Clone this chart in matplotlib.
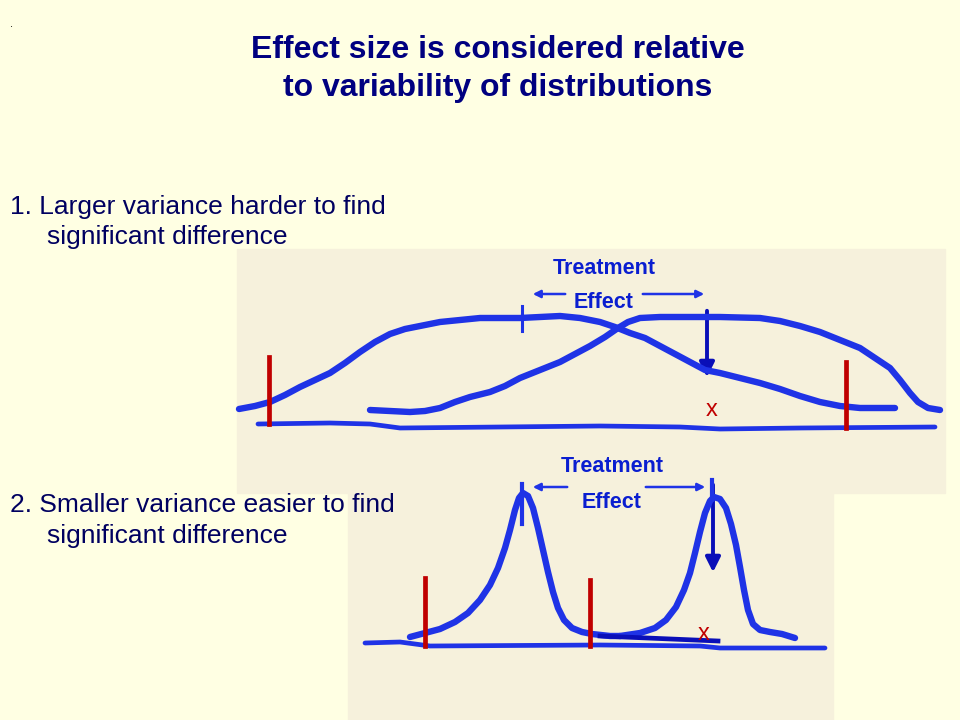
"""Slide: effect size relative to the variability of distributions (hand-drawn sketch)."""
import matplotlib
matplotlib.use("Agg")
import matplotlib.pyplot as plt
from matplotlib.patches import Rectangle, FancyArrowPatch

plt.rcParams['font.family'] = ['Liberation Sans', 'DejaVu Sans']

# ---- data (slide pixel coordinates) ----
# panel 1: wide distributions
p1_left_x = [239, 255, 270, 285, 300, 315, 330, 345, 360, 375, 390, 405, 420, 440, 460, 480, 500,
             520, 540, 560, 580, 600, 615, 630, 645, 660, 675, 690, 705, 720, 740, 760, 780, 800,
             820, 840, 860, 880, 895]
p1_left_y = [409, 406, 402, 395, 387, 380, 373, 363, 352, 342, 334, 329, 326, 322, 320, 318, 318,
             318, 317, 316, 318, 322, 327, 333, 338, 346, 354, 362, 370, 373, 378, 383, 389, 396,
             402, 406, 408, 408, 408]
p1_right_x = [370, 390, 410, 425, 440, 455, 470, 490, 505, 520, 540, 560, 575, 590, 605, 618, 628,
              640, 660, 690, 720, 760, 780, 800, 820, 840, 860, 875, 890, 900, 910, 918, 928, 940]
p1_right_y = [410, 411, 412, 411, 408, 402, 397, 392, 386, 378, 370, 362, 354, 346, 337, 328, 322,
              318, 317, 317, 317, 318, 321, 326, 332, 340, 348, 358, 368, 380, 393, 402, 408, 410]
p1_base_x = [258, 330, 370, 400, 600, 680, 720, 800, 935]
p1_base_y = [424, 423, 424, 428, 426, 427, 429, 428, 427]
p1_red_x = [269, 846]
p1_red_top = [357, 362]
p1_red_bot = [424, 428]

# panel 2: narrow distributions
p2_left_x = [410, 425, 440, 455, 468, 480, 490, 498, 505, 510, 515, 519, 523, 528, 533, 538, 543,
             548, 553, 558, 564, 572, 582, 592, 610, 620]
p2_left_y = [637, 633, 629, 622, 613, 600, 585, 568, 548, 530, 510, 498, 493, 496, 508, 528, 550,
             572, 592, 608, 620, 628, 632, 634, 636, 636]
p2_right_x = [620, 640, 655, 666, 676, 684, 690, 695, 700, 705, 710, 714, 720, 726, 731, 736, 740,
              744, 748, 753, 760, 770, 782, 795]
p2_right_y = [636, 633, 628, 620, 607, 590, 573, 553, 532, 513, 501, 497, 499, 508, 524, 545, 567,
              590, 610, 624, 630, 632, 634, 638]
p2_base_x = [365, 400, 430, 600, 700, 720, 825]
p2_base_y = [643, 642, 646, 645, 646, 648, 648]
p2_tail_x = [600, 718]
p2_tail_y = [636, 641]
p2_red_x = [425, 590]
p2_red_top = [578, 580]
p2_red_bot = [646, 646]

BLUE = '#1f33e6'
DARK = '#0a0fb8'
RED = '#c00000'
NAVY = '#000080'
TXT = '#000060'

fig = plt.figure(figsize=(9.6, 7.2), dpi=100, facecolor='#ffffe3')
ax = fig.add_axes([0, 0, 1, 1])
ax.set_xlim(0, 960)
ax.set_ylim(720, 0)
ax.axis('off')

# panel backgrounds
ax.add_patch(Rectangle((237, 249), 708, 244, color='#f6f1dc', zorder=0))
ax.add_patch(Rectangle((348, 493), 485, 227, color='#f6f1dc', zorder=0))

kw = dict(color=BLUE, lw=4.6, solid_capstyle='round', solid_joinstyle='round')
ax.plot(p1_left_x, p1_left_y, **kw)
ax.plot(p1_right_x, p1_right_y, **kw)
ax.plot(p1_base_x, p1_base_y, color=BLUE, lw=3.4, solid_capstyle='round')
ax.plot(p2_left_x, p2_left_y, **kw)
ax.plot(p2_right_x, p2_right_y, **kw)
ax.plot(p2_base_x, p2_base_y, color=BLUE, lw=3.4, solid_capstyle='round')
ax.plot(p2_tail_x, p2_tail_y, color=DARK, lw=3.4)

for x, t, b in zip(p1_red_x + p2_red_x, p1_red_top + p2_red_top, p1_red_bot + p2_red_bot):
    ax.plot([x, x], [t, b], color=RED, lw=3.4)

# mean ticks and arrows
ax.plot([522, 522], [306, 331], color=BLUE, lw=2.2)
ax.plot([522, 522], [484, 524], color=BLUE, lw=3.0)
ax.plot([712, 712], [480, 497], color=BLUE, lw=3.0)
for x, y0, y1 in [(707, 308, 380), (713, 482, 575)]:
    ax.add_patch(FancyArrowPatch((x, y0), (x, y1), arrowstyle='-|>', mutation_scale=22,
                                 color=DARK, lw=2.8))
for y, xl, xr in [(294, 530, 568), (487, 530, 570)]:
    ax.add_patch(FancyArrowPatch((xr, y), (xl, y), arrowstyle='-|>', mutation_scale=11,
                                 color=BLUE, lw=1.8))
for y, xl, xr in [(294, 640, 707), (487, 643, 708)]:
    ax.add_patch(FancyArrowPatch((xl, y), (xr, y), arrowstyle='-|>', mutation_scale=11,
                                 color=BLUE, lw=1.8))

lab = dict(color='#0a1ed0', fontsize=15.5, fontweight='bold', ha='center', va='center')
ax.text(604, 268, 'Treatment', **lab)
ax.text(604, 302, 'Effect', **lab)
ax.text(612, 467, 'Treatment', **lab)
ax.text(612, 502, 'Effect', **lab)
ax.text(712, 410, 'x', color=RED, fontsize=17, ha='center', va='center')
ax.text(704, 634, 'x', color=RED, fontsize=17, ha='center', va='center')

# title and body text
ax.text(10, 24, '.', color='black', fontsize=8, ha='left', va='center')
ax.text(498, 50, 'Effect size is considered relative', color=NAVY, fontsize=23,
        fontweight='bold', ha='center', va='center')
ax.text(498, 88, 'to variability of distributions', color=NAVY, fontsize=23,
        fontweight='bold', ha='center', va='center')
body = dict(color=TXT, fontsize=19, ha='left', va='center')
ax.text(10, 207, '1. Larger variance harder to find', **body)
ax.text(47, 237, 'significant difference', **body)
ax.text(10, 505, '2. Smaller variance easier to find', **body)
ax.text(47, 536, 'significant difference', **body)

fig.savefig('out.png', dpi=100, facecolor=fig.get_facecolor())
